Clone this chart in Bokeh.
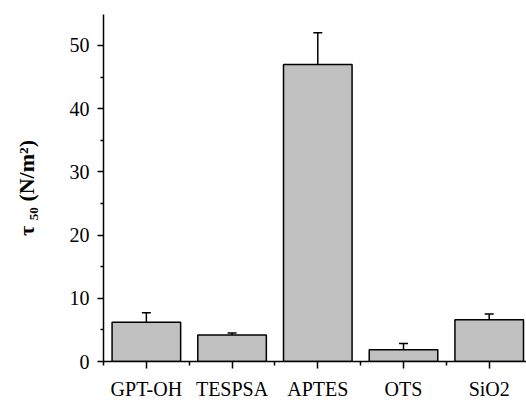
from bokeh.plotting import figure
from bokeh.models import ColumnDataSource, FixedTicker, Range1d, Whisker, TeeHead
from bokeh.embed import file_html
from bokeh.resources import INLINE

categories = ["GPT-OH", "TESPSA", "APTES", "OTS", "SiO2"]
values = [6.2, 4.2, 47.0, 1.85, 6.6]
errors = [1.5, 0.3, 5.0, 1.0, 0.9]

xs = list(range(1, len(categories) + 1))
upper = [v + e for v, e in zip(values, errors)]
src = ColumnDataSource(dict(x=xs, top=values, upper=upper, cat=categories))

FONT = "Liberation Serif"

p = figure(width=526, height=407, output_backend="svg", toolbar_location=None,
           x_range=Range1d(0.5, 5.435), y_range=Range1d(0, 54.9),
           min_border_left=103, min_border_right=0, min_border_top=14, min_border_bottom=46)
p.outline_line_color = None
p.xgrid.visible = False
p.ygrid.visible = False
p.background_fill_color = "white"
p.border_fill_color = "white"

p.vbar(x="x", top="top", width=0.8, bottom=0, source=src,
       fill_color="#c0c0c0", line_color="black", line_width=1.5)

w = Whisker(base="x", lower="top", upper="upper", source=src,
            line_color="black", line_width=1.5,
            upper_head=TeeHead(size=9, line_color="black", line_width=1.5),
            lower_head=None)
p.add_layout(w)

# y axis
p.yaxis.ticker = FixedTicker(ticks=[0, 10, 20, 30, 40, 50], minor_ticks=[5, 15, 25, 35, 45])
p.yaxis.major_tick_in = 0
p.yaxis.major_tick_out = 6
p.yaxis.minor_tick_in = 0
p.yaxis.minor_tick_out = 3
p.yaxis.axis_line_width = 1.5
p.yaxis.major_tick_line_width = 1.5
p.yaxis.minor_tick_line_width = 1.5
p.yaxis.major_label_text_font = FONT
p.yaxis.major_label_text_font_size = "20px"
p.yaxis.major_label_text_color = "black"
p.yaxis.major_label_standoff = 8
p.yaxis.axis_label = "τ ₅₀ (N/m²)"
p.yaxis.axis_label_text_font = FONT
p.yaxis.axis_label_text_font_style = "bold"
p.yaxis.axis_label_text_font_size = "22px"
p.yaxis.axis_label_text_color = "black"
p.yaxis.axis_label_standoff = 28

# x axis
p.xaxis.ticker = FixedTicker(ticks=xs, minor_ticks=[0.5, 1.5, 2.5, 3.5, 4.5])
p.xaxis.major_label_overrides = {x: c for x, c in zip(xs, categories)}
p.xaxis.major_tick_in = 0
p.xaxis.major_tick_out = 7
p.xaxis.minor_tick_in = 0
p.xaxis.minor_tick_out = 4
p.xaxis.axis_line_width = 1.5
p.xaxis.major_tick_line_width = 1.5
p.xaxis.minor_tick_line_width = 1.5
p.xaxis.major_label_text_font = FONT
p.xaxis.major_label_text_font_size = "20px"
p.xaxis.major_label_text_color = "black"
p.xaxis.major_label_standoff = 9

open("out.html", "w").write(file_html(p, INLINE))
